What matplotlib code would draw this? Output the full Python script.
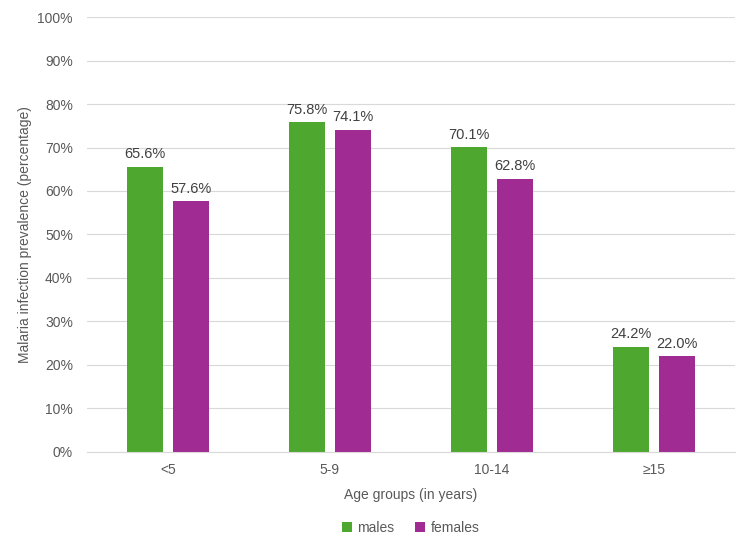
import numpy as np
from matplotlib import pyplot as plt

plt.rcParams['font.family'] = ['Liberation Sans', 'DejaVu Sans']

age_groups = ['<5', '5-9', '10-14', '\u226515']
males = [65.6, 75.8, 70.1, 24.2]
females = [57.6, 74.1, 62.8, 22.0]

green = '#4EA72E'
purple = '#A02B93'
grey = '#595959'

fig = plt.figure(figsize=(7.49, 5.51), dpi=100)
ax = fig.add_axes([0.116, 0.180, 0.865, 0.789])

x = np.arange(len(age_groups))
w = 0.222
off = 0.142
b1 = ax.bar(x - off, males, w, color=green, label='males', zorder=2)
b2 = ax.bar(x + off, females, w, color=purple, label='females', zorder=2)

for bars in (b1, b2):
    for rect in bars:
        h = rect.get_height()
        ax.annotate(f'{h:.1f}%', (rect.get_x() + rect.get_width() / 2, h),
                    xytext=(0, 4), textcoords='offset points',
                    ha='center', va='bottom', fontsize=10.5, color='#404040')

ax.set_xlim(-0.5, len(age_groups) - 0.5)
ax.set_ylim(0, 100)
ax.set_yticks(np.arange(0, 101, 10))
ax.set_yticklabels([f'{v}%' for v in range(0, 101, 10)])
ax.set_xticks(x)
ax.set_xticklabels(age_groups)
ax.tick_params(axis='both', length=0, labelsize=10, colors=grey)
ax.tick_params(axis='y', pad=10)
ax.tick_params(axis='x', pad=8)
ax.grid(axis='y', color='#D9D9D9', linewidth=0.8, zorder=0)
for s in ['top', 'right', 'left']:
    ax.spines[s].set_visible(False)
ax.spines['bottom'].set_color('#D9D9D9')

ax.set_xlabel('Age groups (in years)', fontsize=10, color=grey, labelpad=8)
ax.set_ylabel('Malaria infection prevalence (percentage)', fontsize=10, color=grey, labelpad=4)

ax.legend(loc='upper center', bbox_to_anchor=(0.5, -0.13), ncol=2, frameon=False,
          fontsize=10, handlelength=0.7, handleheight=0.7, columnspacing=1.5,
          handletextpad=0.4, labelcolor=grey)

plt.savefig('out.png', dpi=100)
